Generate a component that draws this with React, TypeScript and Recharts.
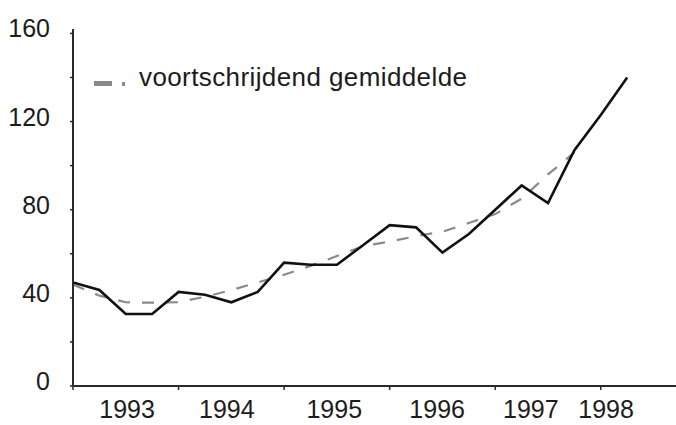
import { Legend, Line, LineChart, XAxis, YAxis } from "recharts";

// kwartalen 1993K1 t/m 1998K2
const QUARTERS = [
  "1993K1", "1993K2", "1993K3", "1993K4",
  "1994K1", "1994K2", "1994K3", "1994K4",
  "1995K1", "1995K2", "1995K3", "1995K4",
  "1996K1", "1996K2", "1996K3", "1996K4",
  "1997K1", "1997K2", "1997K3", "1997K4",
  "1998K1", "1998K2",
];

const ACTUAL = [
  47, 43.6, 32.7, 32.7,
  42.7, 41.4, 38, 42.7,
  56, 55, 55, 64,
  73, 72, 60.5, 69,
  80, 91, 83, 107,
  123, 140,
];

const MOVING_AVG = [
  46, 41, 38, 37.8,
  38, 40.5, 43.5, 47,
  50.5, 54.5, 59, 63.5,
  65.5, 68, 70, 74,
  78, 85, 96, 106,
];

const Y_TICKS = [0, 20, 40, 60, 80, 100, 120, 140, 160];
const Y_LABELED = [0, 40, 80, 120, 160];

// jaargrenzen (kwartaalindex) en plaats van de jaarlabels
const YEAR_STARTS = [0, 4, 8, 12, 16, 20];
const YEAR_LABELS = [
  { at: 2.05, label: "1993" },
  { at: 5.83, label: "1994" },
  { at: 9.9, label: "1995" },
  { at: 13.8, label: "1996" },
  { at: 17.35, label: "1997" },
  { at: 20.2, label: "1998" },
];
const X_TICKS = Array.from(
  new Set([...YEAR_STARTS, ...YEAR_LABELS.map((d) => d.at)]),
).sort((a, b) => a - b);

const data = QUARTERS.map((quarter, i) => ({
  t: i,
  quarter,
  actual: ACTUAL[i],
  avg: i < MOVING_AVG.length ? MOVING_AVG[i] : null,
}));

const FONT = '"Liberation Sans", Arial, Helvetica, sans-serif';
const AXIS = "#2a2a2a";
const TEXT = "#1c1c1c";
const GREY = "#8a8a8a";

function YearTick(props: any) {
  const { x, y, payload } = props;
  const v = payload.value;
  const label = YEAR_LABELS.find((d) => d.at === v);
  return (
    <g>
      {YEAR_STARTS.includes(v) && (
        <line x1={x} x2={x} y1={y} y2={y + 4} stroke={AXIS} strokeWidth={1.5} />
      )}
      {label && (
        <text
          x={x}
          y={y + 23}
          textAnchor="middle"
          dominantBaseline="central"
          fontFamily={FONT}
          fontSize={25}
          fill={TEXT}
        >
          {label.label}
        </text>
      )}
    </g>
  );
}

function ValueTick(props: any) {
  const { x, y, payload } = props;
  if (!Y_LABELED.includes(payload.value)) return <g />;
  return (
    <text
      x={x}
      y={y - 5}
      textAnchor="end"
      dominantBaseline="central"
      fontFamily={FONT}
      fontSize={25}
      fill={TEXT}
    >
      {payload.value}
    </text>
  );
}

function AvgLegend(props: any) {
  const items = (props.payload || []).filter((p: any) => p.type !== "none");
  return (
    <div>
      {items.map((p: any) => (
        <div key={p.value} style={{ display: "flex", height: 30 }}>
          <svg width={45} height={30}>
            <rect x={0} y={19} width={18} height={5} fill={GREY} />
            <rect x={28} y={20} width={3} height={4} fill={GREY} />
          </svg>
          <span
            style={{
              fontFamily: FONT,
              fontSize: 26,
              lineHeight: "30px",
              letterSpacing: 0.4,
              color: TEXT,
              whiteSpace: "nowrap",
            }}
          >
            {p.value}
          </span>
        </div>
      ))}
    </div>
  );
}

export default function App() {
  return (
    <div
      style={{
        position: "fixed",
        left: 0,
        top: 0,
        width: 676,
        height: 425,
        background: "#fff",
      }}
    >
      <LineChart
        width={676}
        height={425}
        data={data}
        margin={{ top: 29, right: 0, bottom: 0, left: 0 }}
      >
        <XAxis
          dataKey="t"
          type="number"
          domain={[0, 22.85]}
          allowDataOverflow
          ticks={X_TICKS}
          interval={0}
          tickSize={0}
          tickMargin={0}
          tickLine={false}
          tick={<YearTick />}
          height={39}
          axisLine={{ stroke: AXIS, strokeWidth: 2 }}
        />
        <YAxis
          type="number"
          domain={[0, 162]}
          ticks={Y_TICKS}
          interval={0}
          width={73}
          tickSize={3}
          tickMargin={20}
          tick={<ValueTick />}
          tickLine={{ stroke: AXIS, strokeWidth: 1.5 }}
          axisLine={{ stroke: AXIS, strokeWidth: 2 }}
        />
        <Legend
          layout="horizontal"
          verticalAlign="middle"
          align="center"
          content={<AvgLegend />}
          wrapperStyle={{ left: 94, top: 62, width: "auto" }}
        />
        <Line
          dataKey="avg"
          name="voortschrijdend gemiddelde"
          stroke={GREY}
          strokeWidth={2.2}
          strokeDasharray="12 12"
          dot={false}
          activeDot={false}
          connectNulls={false}
          isAnimationActive={false}
        />
        <Line
          dataKey="actual"
          name="index"
          stroke="#111"
          strokeWidth={2.6}
          strokeLinejoin="miter"
          dot={false}
          activeDot={false}
          legendType="none"
          isAnimationActive={false}
        />
      </LineChart>
    </div>
  );
}
